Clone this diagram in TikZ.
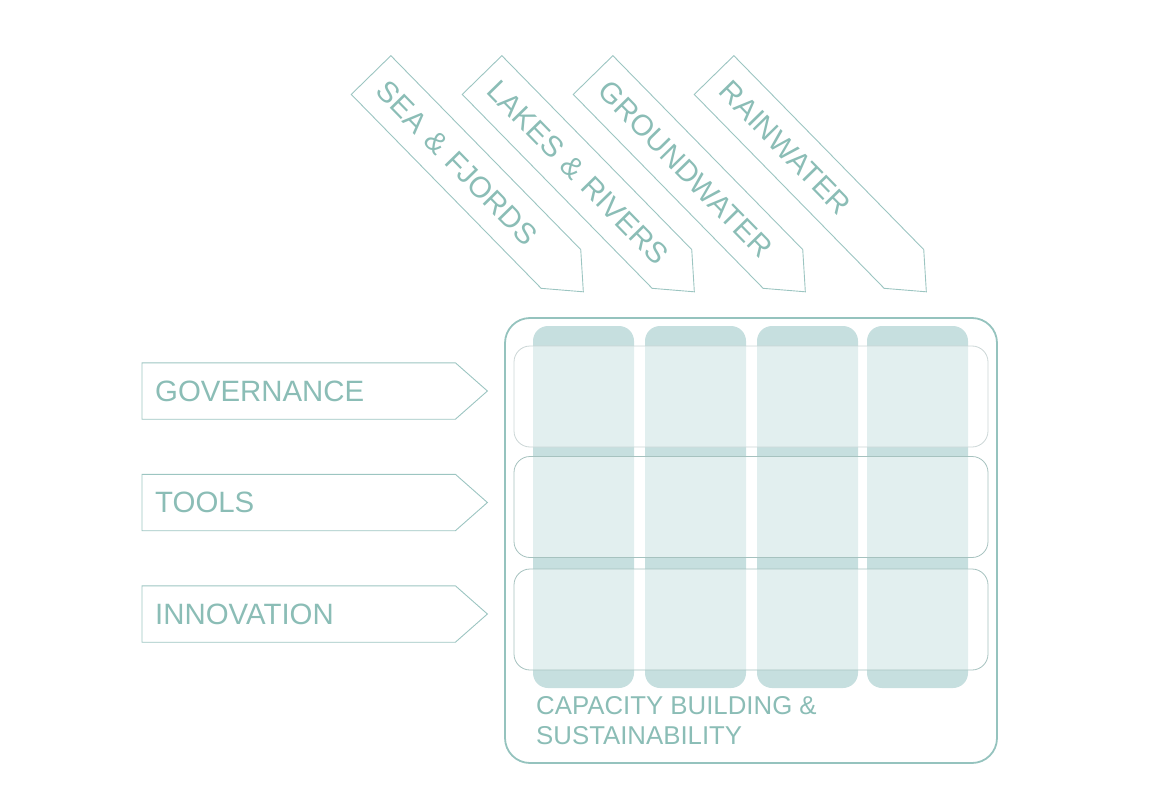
\documentclass[tikz,border=0pt]{standalone}
\usepackage{fontspec}
\setmainfont{Liberation Sans}
\usetikzlibrary{calc}

\definecolor{tealtext}{HTML}{8BBDB6}
\definecolor{tealline}{HTML}{9CC5C1}
\definecolor{frameline}{HTML}{95C3BE}
\definecolor{colfill}{HTML}{C6DFDF}
\definecolor{rowline}{HTML}{A6C2BF}
\definecolor{rowlinelight}{HTML}{CBD6D6}

\tikzset{
  tag/.style={inner xsep=13pt, inner ysep=0pt, minimum height=56pt, text width=287pt, align=left,
    text=tealtext, font=\fontsize{29.4}{32}\selectfont},
  slant/.style={tag, inner xsep=15pt, minimum height=55pt, text width=241pt, rotate=-45.6},
  column/.style={fill=colfill, rounded corners=15pt, minimum width=101pt, minimum height=362pt, inner sep=0pt},
  row/.style={fill=white, fill opacity=0.5, draw=rowline, draw opacity=1, line width=0.8pt,
    rounded corners=16pt, minimum width=474pt, minimum height=101pt, inner sep=0pt}
}

\begin{document}
\begin{tikzpicture}[x=1pt, y=-1pt]
\useasboundingbox (0,0) rectangle (1155,799);

% outer frame
\node (frame) [draw=frameline, line width=1.8pt, rounded corners=25pt, minimum width=492pt, minimum height=445pt, inner sep=0pt] at (751,540.5) {};

% water columns
\node (c1) [column] at (583.5,507) {};
\node (c2) [column] at (695.5,507) {};
\node (c3) [column] at (807.5,507) {};
\node (c4) [column] at (917.5,507) {};

% theme rows
\node (r1) [row, draw=rowlinelight] at (751,396.5) {};
\node (r2) [row] at (751,507) {};
\node (r3) [row] at (751,619.5) {};

\node (cap) [anchor=north west, inner sep=0pt, align=left, text=tealtext, font=\fontsize{25.8}{30}\selectfont] at (536,696) {CAPACITY BUILDING \&\\SUSTAINABILITY};

% themes
\node (gov) [tag, anchor=west] at (142,391) {GOVERNANCE};
\node (tools) [tag, anchor=west] at (142,502.5) {TOOLS};
\node (innov) [tag, anchor=west] at (142,614) {INNOVATION};

% water sources
\node (sea) [slant] at (466,172) {\mbox{SEA \& FJORDS}};
\node (lakes) [slant] at (577,172) {\mbox{LAKES \& RIVERS}};
\node (ground) [slant] at (688,172) {\mbox{GROUNDWATER}};
\node (rain) [slant] at (809,172) {\mbox{RAINWATER}};

\foreach \n in {gov,tools,innov,sea,lakes,ground,rain}
  \draw[tealline, line width=0.9pt, line join=miter]
    (\n.north west) -- (\n.north east) -- ($(\n.east)!-32pt!(\n.west)$)
    -- (\n.south east) -- (\n.south west) -- cycle;
\end{tikzpicture}
\end{document}
